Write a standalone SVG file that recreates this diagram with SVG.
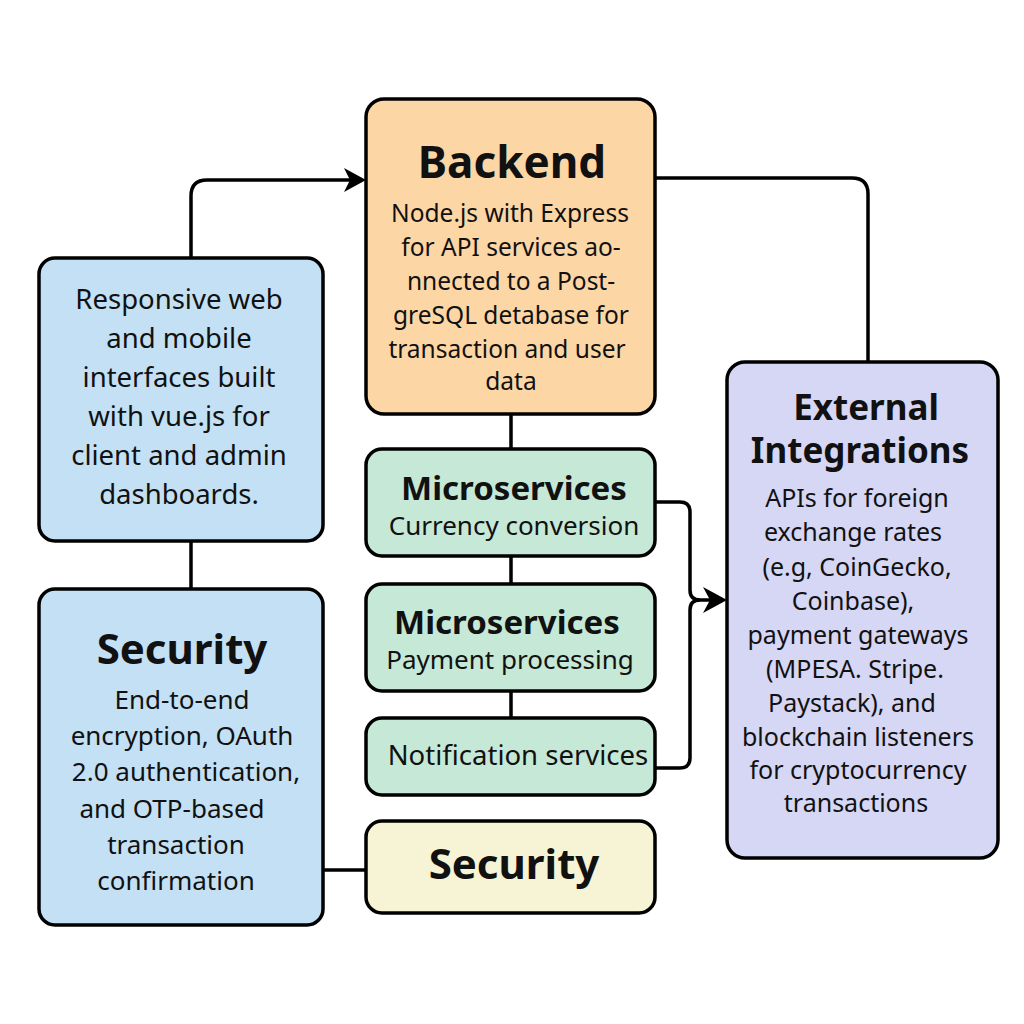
<svg xmlns="http://www.w3.org/2000/svg" width="1024" height="1024" viewBox="0 0 1024 1024">
<defs>
<style>
.box{stroke:#000;stroke-width:3.5}
.ln{fill:none;stroke:#000;stroke-width:3.5;stroke-linejoin:round}
text{font-family:"Noto Sans","Open Sans","DejaVu Sans",sans-serif;fill:#111;text-anchor:middle}
.t{font-weight:bold}
</style>
</defs>
<rect width="1024" height="1024" fill="#fff"/>
<g id="connectors">
<path class="ln" d="M191,258 V196 Q191,180 207,180 H350"/>
<path d="M366,180 L344,168 L350,180 L344,192 Z" fill="#000"/>
<path class="ln" d="M655,178 H852 Q868,178 868,194 V362"/>
<path class="ln" d="M511,414 V449 M511,556 V584 M511,691 V718"/>
<path class="ln" d="M191,541 V589"/>
<path class="ln" d="M323,870 H366"/>
<path class="ln" d="M655,502 H680 Q690,502 690,512 V590 Q690,600 700,600 H712"/>
<path class="ln" d="M655,768 H680 Q690,768 690,758 V610 Q690,600 700,600"/>
<path d="M727,600 L703,587 L710,600 L703,613 Z" fill="#000"/>
</g>
<g id="client">
<rect class="box" x="39" y="258" width="284" height="283" rx="16" fill="#C3E0F5"/>
<text x="179" y="309" font-size="27.5">Responsive web</text>
<text x="179" y="348" font-size="27.5">and mobile</text>
<text x="179" y="387" font-size="27.5">interfaces built</text>
<text x="179" y="426" font-size="27.5">with vue.js for</text>
<text x="179" y="465" font-size="27.5">client and admin</text>
<text x="179" y="504" font-size="27.5">dashboards.</text>
</g>
<g id="security-left">
<rect class="box" x="39" y="589" width="284" height="336" rx="16" fill="#C3E0F5"/>
<text class="t" x="182" y="664" font-size="42">Security</text>
<text x="182" y="709" font-size="26">End-to-end</text>
<text x="182" y="745" font-size="26">encryption, OAuth</text>
<text x="186" y="781" font-size="26">2.0 authentication,</text>
<text x="172" y="818" font-size="26">and OTP-based</text>
<text x="176" y="854" font-size="26">transaction</text>
<text x="176" y="890" font-size="26">confirmation</text>
</g>
<g id="backend">
<rect class="box" x="366" y="99" width="289" height="315" rx="18" fill="#FDD6A6"/>
<text class="t" x="512" y="178" font-size="44">Backend</text>
<text x="510" y="222" font-size="24.5">Node.js with Express</text>
<text x="511" y="256" font-size="24.5">for API services ao-</text>
<text x="511" y="290" font-size="24.5">nnected to a Post-</text>
<text x="511" y="324" font-size="24.5">greSQL detabase for</text>
<text x="507" y="358" font-size="24.5">transaction and user</text>
<text x="511" y="390" font-size="24.5">data</text>
</g>
<g id="micro-currency">
<rect class="box" x="366" y="449" width="289" height="107" rx="16" fill="#C6E8D6"/>
<text class="t" x="514" y="500" font-size="33">Microservices</text>
<text x="514" y="535" font-size="26">Currency conversion</text>
</g>
<g id="micro-payment">
<rect class="box" x="366" y="584" width="289" height="107" rx="16" fill="#C6E8D6"/>
<text class="t" x="507" y="634" font-size="33">Microservices</text>
<text x="510" y="669" font-size="26">Payment processing</text>
</g>
<g id="notification">
<rect class="box" x="366" y="718" width="289" height="77" rx="16" fill="#C6E8D6"/>
<text x="518" y="765" font-size="27.5">Notification services</text>
</g>
<g id="security-right">
<rect class="box" x="366" y="821" width="289" height="92" rx="16" fill="#F7F3D5"/>
<text class="t" x="514" y="879" font-size="42">Security</text>
</g>
<g id="external">
<rect class="box" x="727" y="362" width="271" height="496" rx="18" fill="#D6D6F5"/>
<text class="t" x="866" y="420" font-size="35">External</text>
<text class="t" x="860" y="463" font-size="35">Integrations</text>
<text x="857" y="507" font-size="25">APIs for foreign</text>
<text x="853" y="541" font-size="25">exchange rates</text>
<text x="857" y="576" font-size="25">(e.g, CoinGecko,</text>
<text x="853" y="610" font-size="25">Coinbase),</text>
<text x="858" y="644" font-size="25">payment gateways</text>
<text x="855" y="678" font-size="25">(MPESA. Stripe.</text>
<text x="852" y="712" font-size="25">Paystack), and</text>
<text x="858" y="746" font-size="25">blockchain listeners</text>
<text x="858" y="779" font-size="25">for cryptocurrency</text>
<text x="856" y="812" font-size="25">transactions</text>
</g>
</svg>
